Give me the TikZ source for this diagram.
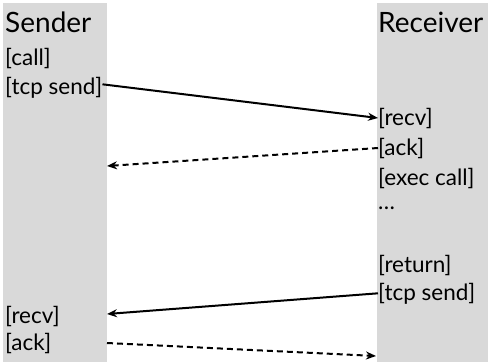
\documentclass[tikz,border=0pt]{standalone}
\usepackage{fontspec}
\setmainfont{Lato}
\usetikzlibrary{arrows.meta}

\begin{document}
\begin{tikzpicture}[x=1pt,y=-1pt,
	every node/.style={anchor=base west, inner sep=0pt, font=\fontsize{22.5}{22.5}\selectfont},
	head/.style={font=\fontsize{28}{28}\selectfont},
	msg/.style={line width=2pt, -{Stealth[length=10pt,width=8pt]}},
	reply/.style={msg, dash pattern=on 6pt off 4pt}]
	
	\useasboundingbox (0,0) rectangle (488,362);
	\fill[black!15] (3,3) rectangle (107,362);
	\fill[black!15] (377,3) rectangle (488,362);
	
	\node[head] (1) at (5,32) {Sender};
	\node (2) at (5,65) {[call]};
	\node (3) at (5,94) {[tcp send]};
	\node (4) at (5,323) {[recv]};
	\node (5) at (5,350) {[ack]};
	
	\node[head] (6) at (378,32) {Receiver};
	\node (7) at (378,125) {[recv]};
	\node (8) at (378,155) {[ack]};
	\node (9) at (378,185) {[exec call]};
	\node (10) at (378,209) {\dots};
	\node (11) at (378,272) {[return]};
	\node (12) at (378,300) {[tcp send]};
	
	\coordinate (13) at (107,166);
	\coordinate (14) at (107,314);
	\coordinate (15) at (107,343);
	\coordinate (16) at (376,356);
	
	\path[msg] ([yshift=3pt]3.east) edge (7.west);
	\path[reply] (8.west) edge (13);
	\path[msg] (12.west) edge (14);
	\path[reply] (15) edge (16);
	
\end{tikzpicture}
\end{document}
